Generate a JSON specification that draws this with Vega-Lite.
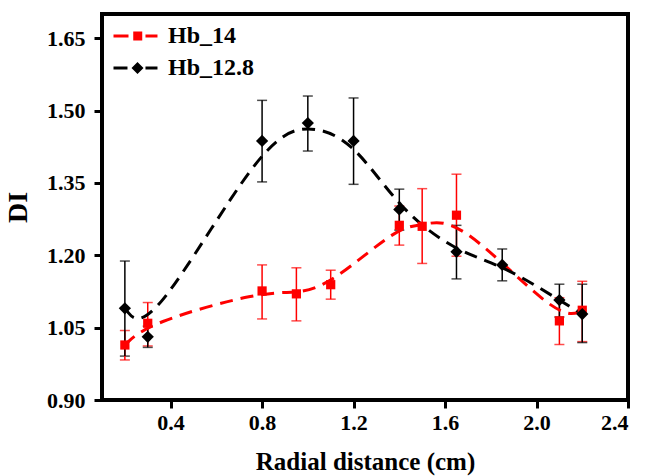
{
  "$schema": "https://vega.github.io/schema/vega-lite/v6.json",
  "autosize": {"type": "none"},
  "padding": {"left": 102, "top": 14, "right": 17, "bottom": 76},
  "width": 526,
  "height": 386,
  "background": "white",
  "config": {
    "view": {"stroke": "black", "strokeWidth": 4},
    "axis": {
      "domain": false,
      "grid": false,
      "ticks": true,
      "tickColor": "black",
      "tickWidth": 3,
      "tickSize": 8,
      "labelFont": "Liberation Serif",
      "labelFontSize": 22,
      "labelFontWeight": "bold",
      "labelColor": "black",
      "labelPadding": 4,
      "titleFont": "Liberation Serif",
      "titleFontWeight": "bold",
      "titleColor": "black"
    }
  },
  "data": {
    "values": [
      {"series": "Hb_14", "x": 0.2, "y": 1.014, "lo": 0.983, "hi": 1.044},
      {"series": "Hb_14", "x": 0.3, "y": 1.059, "lo": 1.012, "hi": 1.102},
      {"series": "Hb_14", "x": 0.8, "y": 1.126, "lo": 1.068, "hi": 1.180},
      {"series": "Hb_14", "x": 0.95, "y": 1.120, "lo": 1.064, "hi": 1.174},
      {"series": "Hb_14", "x": 1.1, "y": 1.139, "lo": 1.109, "hi": 1.169},
      {"series": "Hb_14", "x": 1.4, "y": 1.262, "lo": 1.221, "hi": 1.302},
      {"series": "Hb_14", "x": 1.5, "y": 1.260, "lo": 1.183, "hi": 1.338},
      {"series": "Hb_14", "x": 1.65, "y": 1.283, "lo": 1.198, "hi": 1.368},
      {"series": "Hb_14", "x": 2.1, "y": 1.064, "lo": 1.015, "hi": 1.112},
      {"series": "Hb_14", "x": 2.2, "y": 1.086, "lo": 1.021, "hi": 1.146},
      {"series": "Hb_12.8", "x": 0.2, "y": 1.090, "lo": 0.991, "hi": 1.188},
      {"series": "Hb_12.8", "x": 0.3, "y": 1.031, "lo": 1.009, "hi": 1.053},
      {"series": "Hb_12.8", "x": 0.8, "y": 1.437, "lo": 1.352, "hi": 1.521},
      {"series": "Hb_12.8", "x": 1.0, "y": 1.474, "lo": 1.416, "hi": 1.530},
      {"series": "Hb_12.8", "x": 1.2, "y": 1.437, "lo": 1.347, "hi": 1.526},
      {"series": "Hb_12.8", "x": 1.4, "y": 1.295, "lo": 1.252, "hi": 1.337},
      {"series": "Hb_12.8", "x": 1.65, "y": 1.207, "lo": 1.151, "hi": 1.262},
      {"series": "Hb_12.8", "x": 1.85, "y": 1.180, "lo": 1.147, "hi": 1.213},
      {"series": "Hb_12.8", "x": 2.1, "y": 1.107, "lo": 1.072, "hi": 1.140},
      {"series": "Hb_12.8", "x": 2.2, "y": 1.078, "lo": 1.019, "hi": 1.140}
    ]
  },
  "encoding": {
    "x": {
      "field": "x", "type": "quantitative",
      "scale": {"domain": [0.1, 2.4], "nice": false, "zero": false},
      "axis": {"values": [0.4, 0.8, 1.2, 1.6, 2.0, 2.4], "format": ".1f", "title": "Radial distance (cm)", "titleFontSize": 25, "titlePadding": 16}
    },
    "color": {
      "field": "series", "type": "nominal",
      "scale": {"domain": ["Hb_14", "Hb_12.8"], "range": ["#ff0000", "#000000"]},
      "legend": {
        "title": null,
        "orient": "top-left",
        "offset": 10,
        "padding": 0,
        "labelFont": "Liberation Serif",
        "labelFontSize": 24,
        "labelFontWeight": "bold",
        "labelColor": "black",
        "symbolSize": 576,
        "symbolOpacity": 1,
        "symbolStrokeWidth": 0,
        "rowPadding": 8,
        "labelOffset": 32,
        "encode": {
          "symbols": {
            "update": {
              "shape": {"signal": "datum.value === 'Hb_14' ? 'M-0.875,-0.125H0.375V0.125H-0.875Z M0.77,-0.375H1.52V0.375H0.77Z M1.79,-0.125H2.79V0.125H1.79Z' : 'M-0.875,-0.125H0.29V0.125H-0.875Z M1.125,-0.5L1.625,0L1.125,0.5L0.625,0Z M1.79,-0.125H2.79V0.125H1.79Z'"},
              "size": {"value": 576},
              "fill": {"signal": "datum.value === 'Hb_14' ? '#ff0000' : '#000000'"},
              "stroke": {"value": "transparent"},
              "opacity": {"value": 1}
            }
          }
        }
      }
    },
    "y": {
      "field": "y", "type": "quantitative",
      "scale": {"domain": [0.9, 1.7], "nice": false, "zero": false},
      "axis": {"values": [0.9, 1.05, 1.2, 1.35, 1.5, 1.65], "format": ".2f", "title": "DI", "titleFontSize": 28, "titlePadding": 14, "labelPadding": 9}
    }
  },
  "layer": [
    {
      "mark": {"type": "errorbar", "ticks": {"size": 10, "thickness": 1.5}, "thickness": 1.5},
      "encoding": {
        "y": {"field": "lo", "type": "quantitative", "title": "DI"},
        "y2": {"field": "hi"}
      }
    },
    {
      "mark": {"type": "line", "interpolate": "basis", "strokeDash": [13, 8], "strokeWidth": 3}
    },
    {
      "transform": [{"filter": "datum.series === 'Hb_14'"}],
      "mark": {"type": "point", "shape": "square", "size": 85, "filled": true, "opacity": 1, "strokeWidth": 0}
    },
    {
      "transform": [{"filter": "datum.series === 'Hb_12.8'"}],
      "mark": {"type": "point", "shape": "diamond", "size": 150, "filled": true, "opacity": 1, "strokeWidth": 0}
    }
  ]
}
